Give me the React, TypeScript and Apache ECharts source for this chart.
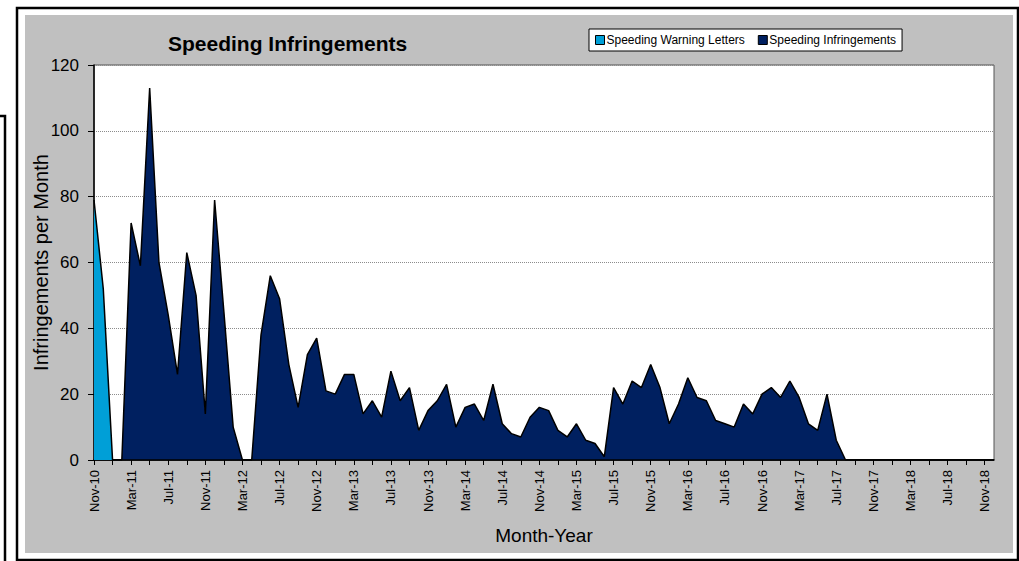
import React, { useEffect, useRef } from "react";
import * as echarts from "echarts";

const MONTH_NAMES = ["Jan", "Feb", "Mar", "Apr", "May", "Jun", "Jul", "Aug", "Sep", "Oct", "Nov", "Dec"];
// Categories: Nov-10 .. Dec-18 (monthly)
const categories: string[] = [];
for (let y = 2010, m = 10; y < 2019; ) {
  categories.push(`${MONTH_NAMES[m]}-${String(y % 100).padStart(2, "0")}`);
  m++;
  if (m === 12) { m = 0; y++; }
}

const warningLetters = [
  79, 52, 0, 0, 0, 0, 0, 0, 0, 0, 0, 0, 0, 0, 0, 0, 0, 0, 0, 0,
  0, 0, 0, 0, 0, 0, 0, 0, 0, 0, 0, 0, 0, 0, 0, 0, 0, 0, 0, 0,
  0, 0, 0, 0, 0, 0, 0, 0, 0, 0, 0, 0, 0, 0, 0, 0, 0, 0, 0, 0,
  0, 0, 0, 0, 0, 0, 0, 0, 0, 0, 0, 0, 0, 0, 0, 0, 0, 0, 0, 0,
  0, 0, 0, 0, 0, 0, 0, 0, 0, 0, 0, 0, 0, 0, 0, 0, 0, 0,
];

const infringements = [
  0, 0, 0, 0, 72, 59, 113, 60, 44, 26, 63, 50, 14, 79, 45, 10, 0, 0, 38, 56,
  49, 29, 16, 32, 37, 21, 20, 26, 26, 14, 18, 13, 27, 18, 22, 9, 15, 18, 23, 10,
  16, 17, 12, 23, 11, 8, 7, 13, 16, 15, 9, 7, 11, 6, 5, 1, 22, 17, 24, 22,
  29, 22, 11, 17, 25, 19, 18, 12, 11, 10, 17, 14, 20, 22, 19, 24, 19, 11, 9, 20,
  6, 0, 0, 0, 0, 0, 0, 0, 0, 0, 0, 0, 0, 0, 0, 0, 0, 0,
];

const yTicks = [0, 20, 40, 60, 80, 100, 120];

const FONT = 'Arial, "Liberation Sans", sans-serif';

export default function App() {
  const ref = useRef<HTMLDivElement>(null);
  useEffect(() => {
    if (!ref.current) return;
    const chart = echarts.init(ref.current, null, { renderer: "svg" });
    chart.setOption({
      animation: false,
      backgroundColor: "#ffffff",
      textStyle: { fontFamily: FONT },
      graphic: [
        {
          type: "rect",
          z: -10,
          shape: { x: 17, y: 8, width: 1001, height: 552 },
          style: { fill: "#ffffff", stroke: "#000000", lineWidth: 2.5 },
        },
        {
          type: "rect",
          z: -9,
          shape: { x: 25, y: 15, width: 988, height: 538 },
          style: { fill: "#C0C0C0" },
        },
        {
          type: "polyline",
          z: -9,
          shape: { points: [[0, 116], [5, 116], [5, 561]] },
          style: { stroke: "#000000", lineWidth: 2.5, fill: "none" },
        },
      ],
      title: {
        text: "Speeding Infringements",
        left: 168,
        top: 33,
        padding: 0,
        textStyle: { fontFamily: FONT, fontSize: 21, fontWeight: "bold", color: "#000" },
      },
      legend: {
        left: 589,
        top: 29,
        padding: [5, 6, 5, 6],
        backgroundColor: "#ffffff",
        borderColor: "#000000",
        borderWidth: 1,
        icon: "rect",
        itemWidth: 9,
        itemHeight: 9,
        itemGap: 13,
        itemStyle: { borderColor: "#000000", borderWidth: 1 },
        textStyle: { fontFamily: FONT, fontSize: 12, color: "#000", padding: [0, 0, 0, -3] },
        data: ["Speeding Warning Letters", "Speeding Infringements"],
      },
      grid: {
        left: 94,
        top: 65,
        right: 25,
        bottom: 101,
        show: true,
        backgroundColor: "#ffffff",
        borderColor: "#555555",
        borderWidth: 1,
      },
      xAxis: {
        type: "category",
        data: categories,
        boundaryGap: false,
        name: "Month-Year",
        nameLocation: "middle",
        nameGap: 66,
        nameMoveOverlap: false,
        nameTextStyle: { fontFamily: FONT, fontSize: 19, color: "#000" },
        axisLine: { lineStyle: { color: "#000", width: 1.5 } },
        axisTick: { show: true, interval: 1, length: 5, lineStyle: { color: "#000" } },
        axisLabel: {
          interval: 3,
          rotate: 90,
          margin: 10,
          fontFamily: FONT,
          fontSize: 13,
          color: "#000",
        },
        splitLine: { show: false },
      },
      yAxis: {
        type: "value",
        min: 0,
        max: 120,
        interval: 20,
        name: "Infringements per Month",
        nameLocation: "middle",
        nameGap: 43,
        nameMoveOverlap: false,
        nameTextStyle: { fontFamily: FONT, fontSize: 20, color: "#000" },
        axisLine: { show: true, lineStyle: { color: "#000", width: 1.5 } },
        axisTick: { show: true, length: 6, lineStyle: { color: "#000" } },
        axisLabel: {
          margin: 15,
          fontFamily: FONT,
          fontSize: 17,
          color: "#000",
          formatter: (v: number) => (yTicks.includes(v) ? String(v) : ""),
        },
        splitLine: { show: true, lineStyle: { color: "#8c8c8c", type: "dotted", width: 1 } },
      },
      series: [
        {
          name: "Speeding Warning Letters",
          type: "line",
          data: warningLetters,
          symbol: "none",
          itemStyle: { color: "#009FD7" },
          lineStyle: { color: "#000", width: 1.5 },
          areaStyle: { color: "#009FD7", opacity: 1 },
          z: 3,
        },
        {
          name: "Speeding Infringements",
          type: "line",
          data: infringements,
          symbol: "none",
          itemStyle: { color: "#002060" },
          lineStyle: { color: "#000", width: 1.5 },
          areaStyle: { color: "#002060", opacity: 1 },
          z: 2,
        },
      ],
    });
    return () => chart.dispose();
  }, []);
  return (
    <div
      ref={ref}
      style={{ position: "absolute", left: 0, top: 0, width: 1019, height: 561 }}
    />
  );
}
